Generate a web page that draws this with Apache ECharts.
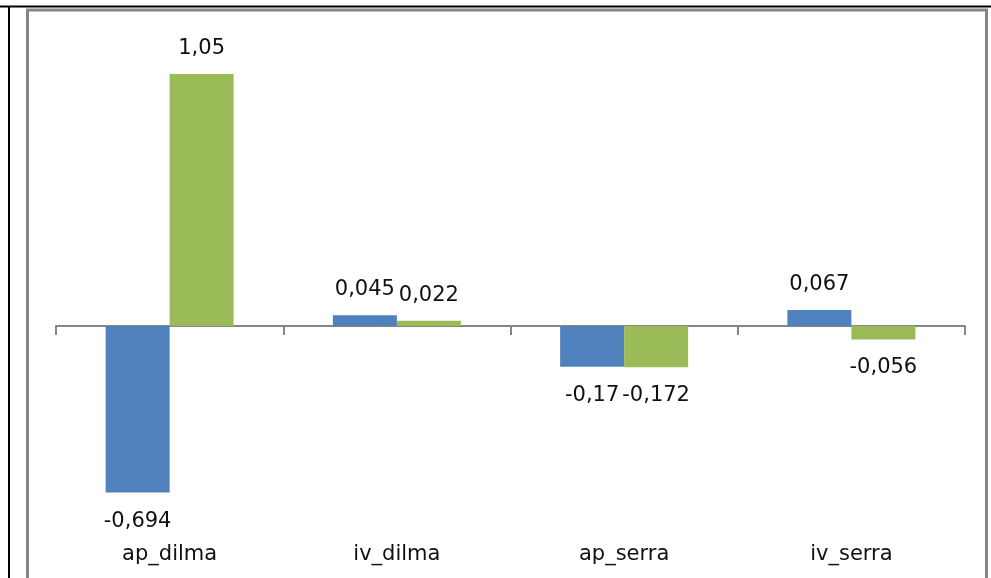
<!DOCTYPE html>
<html>
<head>
<meta charset="utf-8">
<script src="https://cdn.jsdelivr.net/npm/echarts@6/dist/echarts.min.js"></script>
<style>
  html, body { margin: 0; padding: 0; background: #ffffff; }
  #chart { width: 991px; height: 578px; }
</style>
</head>
<body>
<div id="chart"></div>
<script>
// Categories and the two series (values shown with a decimal comma)
const categories = ['ap_dilma', 'iv_dilma', 'ap_serra', 'iv_serra'];
const seriesBlue = [-0.694, 0.045, -0.17, 0.067];
const seriesGreen = [1.05, 0.022, -0.172, -0.056];

const BLUE = '#4F81BD';
const GREEN = '#9BBB59';
const AXIS_GRAY = '#868686';
const FONT = 'DejaVu Sans';

function fmt(v) {
  return String(v).replace('.', ',');
}

function toItems(values) {
  return values.map(function (v) {
    return {
      value: v,
      label: {
        position: v < 0 ? 'bottom' : 'top',
        distance: v < 0 ? 18 : 15
      }
    };
  });
}

const chart = echarts.init(document.getElementById('chart'), null, { renderer: 'canvas' });

const labelStyle = {
  show: true,
  fontFamily: FONT,
  fontSize: 21,
  color: '#111111',
  formatter: function (p) { return fmt(p.value); }
};

chart.setOption({
  animation: false,
  backgroundColor: '#ffffff',
  grid: { left: 56, right: 26, top: 38, bottom: 36, containLabel: false, outerBoundsMode: 'none' },
  xAxis: [
    {
      // zero line with category ticks
      type: 'category',
      data: categories,
      axisLine: { show: true, onZero: true, lineStyle: { color: AXIS_GRAY, width: 2 } },
      axisTick: { show: true, length: 9, interval: 0, lineStyle: { color: AXIS_GRAY, width: 2 } },
      axisLabel: { show: false },
      splitLine: { show: false }
    },
    {
      // category names along the bottom of the plot
      type: 'category',
      data: categories,
      position: 'bottom',
      axisLine: { show: false, onZero: false },
      axisTick: { show: false },
      axisLabel: { show: true, margin: 2, fontFamily: FONT, fontSize: 21, color: '#111111', interval: 0 },
      splitLine: { show: false }
    }
  ],
  yAxis: {
    type: 'value',
    min: -0.9,
    max: 1.2,
    show: false,
    splitLine: { show: false }
  },
  series: [
    {
      type: 'bar',
      data: toItems(seriesBlue),
      barWidth: 64,
      barGap: '0%',
      itemStyle: { color: BLUE },
      label: labelStyle
    },
    {
      type: 'bar',
      data: toItems(seriesGreen),
      barWidth: 64,
      barGap: '0%',
      itemStyle: { color: GREEN },
      label: labelStyle
    }
  ],
  graphic: [
    // outer black frame (top and left edges)
    { type: 'line', shape: { x1: 0, y1: 6.5, x2: 991, y2: 6.5 }, style: { stroke: '#000000', lineWidth: 2 }, z: 10 },
    { type: 'line', shape: { x1: 9, y1: 6, x2: 9, y2: 578 }, style: { stroke: '#000000', lineWidth: 2 }, z: 10 },
    // inner gray chart-area frame
    { type: 'rect', shape: { x: 27.5, y: 10, width: 959, height: 580 }, style: { fill: 'none', stroke: AXIS_GRAY, lineWidth: 3 }, z: 10 }
  ]
});
</script>
</body>
</html>
